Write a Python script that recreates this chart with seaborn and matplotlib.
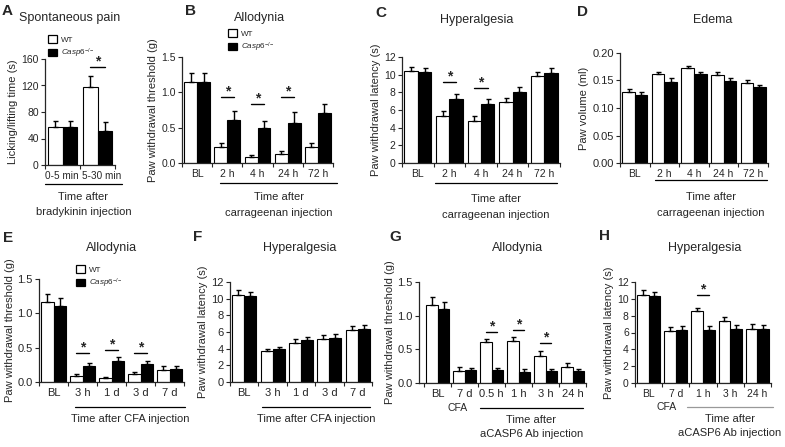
import matplotlib
matplotlib.use("Agg")
import matplotlib.pyplot as plt
from matplotlib.lines import Line2D
from matplotlib.patches import Patch
from matplotlib.transforms import ScaledTranslation
import seaborn as sns
import pandas as pd
import numpy as np

# ---- data ----
cats_a = ["0-5 min", "5-30 min"]
wt_a = [58, 118]
ko_a = [58, 51]
ewt_a = [8, 17]
eko_a = [8, 14]

cats_carr = ["BL", "2 h", "4 h", "24 h", "72 h"]
wt_b = [1.15, 0.22, 0.09, 0.13, 0.23]
ko_b = [1.15, 0.61, 0.50, 0.57, 0.71]
ewt_b = [0.12, 0.06, 0.03, 0.04, 0.06]
eko_b = [0.12, 0.12, 0.09, 0.15, 0.13]

wt_c = [10.4, 5.3, 4.8, 6.9, 9.8]
ko_c = [10.3, 7.2, 6.7, 8.0, 10.2]
ewt_c = [0.5, 0.6, 0.5, 0.5, 0.5]
eko_c = [0.5, 0.6, 0.6, 0.6, 0.6]

wt_d = [0.130, 0.162, 0.172, 0.160, 0.146]
ko_d = [0.124, 0.148, 0.162, 0.150, 0.138]
ewt_d = [0.005, 0.004, 0.004, 0.005, 0.005]
eko_d = [0.005, 0.006, 0.004, 0.005, 0.004]

cats_cfa = ["BL", "3 h", "1 d", "3 d", "7 d"]
wt_e = [1.16, 0.09, 0.06, 0.11, 0.17]
ko_e = [1.10, 0.24, 0.31, 0.26, 0.19]
ewt_e = [0.12, 0.03, 0.02, 0.04, 0.07]
eko_e = [0.12, 0.04, 0.06, 0.05, 0.04]

wt_f = [10.5, 3.7, 4.7, 5.2, 6.2]
ko_f = [10.3, 4.0, 5.0, 5.3, 6.4]
ewt_f = [0.5, 0.3, 0.5, 0.4, 0.5]
eko_f = [0.5, 0.2, 0.4, 0.5, 0.5]

cats_g = ["BL", "7 d", "0.5 h", "1 h", "3 h", "24 h"]
wt_g = [1.16, 0.18, 0.61, 0.63, 0.40, 0.24]
ko_g = [1.10, 0.19, 0.19, 0.17, 0.18, 0.18]
ewt_g = [0.12, 0.06, 0.04, 0.05, 0.07, 0.06]
eko_g = [0.11, 0.04, 0.04, 0.04, 0.03, 0.03]

cats_h = ["BL", "7 d", "1 h", "3 h", "24 h"]
wt_h = [10.5, 6.2, 8.6, 7.4, 6.4]
ko_h = [10.3, 6.3, 6.3, 6.4, 6.4]
ewt_h = [0.5, 0.5, 0.3, 0.5, 0.6]
eko_h = [0.5, 0.5, 0.5, 0.5, 0.5]

groups = ["WT", "Casp6"]

sns.set_style("ticks")
plt.rcParams['font.family'] = ['Liberation Sans', 'DejaVu Sans']
plt.rcParams['mathtext.fontset'] = 'custom'
plt.rcParams['mathtext.it'] = 'Liberation Sans:italic'
plt.rcParams['mathtext.rm'] = 'Liberation Sans'

W, H = 785, 447
fig = plt.figure(figsize=(W / 100, H / 100), dpi=100)


def fx(x):
    return x / W


def fy(y):
    return 1 - y / H


def panel(l, r, t, b, cats, wt, ko, ewt, eko, ymax, ystep, fmt, ylabel, xlim=None,
          stars=(), fs=7.5, xfs=7.5):
    ax = fig.add_axes([l / W, 1 - b / H, (r - l) / W, (b - t) / H])
    df = pd.DataFrame({"time": cats * 2, "value": wt + ko,
                       "group": ["WT"] * len(cats) + ["Casp6"] * len(cats)})
    sns.barplot(data=df, x="time", y="value", hue="group", order=cats, hue_order=groups,
                palette={"WT": "white", "Casp6": "black"}, saturation=1, edgecolor="black",
                linewidth=0.8, width=0.85, errorbar=None, legend=False, ax=ax)
    bars = sorted(ax.patches, key=lambda p: p.get_x())
    xs = np.array([p.get_x() + p.get_width() / 2 for p in bars])
    xw, xk = xs[0::2], xs[1::2]
    for x, v, e in [(xw, wt, ewt), (xk, ko, eko)]:
        ax.errorbar(x, v, yerr=[np.zeros(len(v)), e], fmt="none", ecolor="black",
                    elinewidth=1, capsize=1.8, capthick=1)
    n = len(cats)
    ax.set_xlim(xlim if xlim else (-0.5, n - 0.5))
    ax.set_ylim(0, ymax)
    ticks = np.arange(0, ymax + ystep / 2, ystep)
    ax.set_yticks(ticks)
    ax.set_yticklabels([fmt.format(v) for v in ticks])
    ax.set_xticks(range(n))
    ax.set_xticklabels(cats)
    ax.set_xticks(np.arange(-0.5, n, 1.0), minor=True)
    ax.tick_params(axis="x", which="major", length=0, pad=4, labelsize=xfs)
    ax.tick_params(axis="x", which="minor", length=3, width=0.8, direction="out")
    ax.tick_params(axis="y", length=3, width=0.8, pad=1.5, labelsize=fs)
    ax.set_xlabel("")
    ax.set_ylabel(ylabel, fontsize=8, labelpad=2)
    sns.despine(ax=ax)
    for s in ["left", "bottom"]:
        ax.spines[s].set_linewidth(0.9)
    for i, y in stars:
        ax.plot([xw[i], xk[i]], [y, y], color="black", lw=1, clip_on=False)
        ax.annotate("*", xy=(xs[2 * i] / 2 + xs[2 * i + 1] / 2, y), xytext=(0, -1),
                    textcoords="offset points", ha="center", va="bottom",
                    fontsize=10, fontweight="bold", annotation_clip=False)
    return ax


def caption(x1, x2, y, lines, ytext, color="black"):
    fig.add_artist(Line2D([fx(x1), fx(x2)], [fy(y), fy(y)], color=color, lw=0.9))
    cx = (x1 + x2) / 2
    for txt, yy in zip(lines, ytext):
        fig.text(fx(cx), fy(yy), txt, ha="center", va="center", fontsize=8)


def legend(ax, x, y):
    handles = [Patch(facecolor="white", edgecolor="black", lw=0.9),
               Patch(facecolor="black", edgecolor="black", lw=0.9)]
    ax.legend(handles, ["WT", r"$\mathit{Casp6}^{-/-}$"], loc="upper left",
              bbox_to_anchor=(fx(x), fy(y)), bbox_transform=fig.transFigure,
              frameon=False, fontsize=5.8, handlelength=1.1, handleheight=1.1,
              handletextpad=0.5, labelspacing=0.35, borderpad=0, borderaxespad=0)


def title(x, y, txt):
    fig.text(fx(x), fy(y), txt, ha="center", va="center", fontsize=9)


def letter(x, y, txt):
    fig.text(fx(x), fy(y), txt, ha="center", va="center", fontsize=11, fontweight="heavy")


ax_a = panel(45, 115, 59, 165, cats_a, wt_a, ko_a, ewt_a, eko_a, 160, 40, "{:.0f}",
             "Licking/lifting time (s)", stars=[(1, 148)], fs=7.5, xfs=7.2)
for lab, dx in zip(ax_a.get_xticklabels(), [-1, 4]):
    lab.set_transform(lab.get_transform() + ScaledTranslation(dx / 100, 0, fig.dpi_scale_trans))
legend(ax_a, 48, 35)
caption(45, 122, 184, ["Time after", "bradykinin injection"], [197, 212])

ax_b = panel(182, 333, 57, 163, cats_carr, wt_b, ko_b, ewt_b, eko_b, 1.5, 0.5, "{:.1f}",
             "Paw withdrawal threshold (g)", stars=[(1, 0.93), (2, 0.84), (3, 0.93)])
legend(ax_b, 228, 29)
caption(220, 337, 183, ["Time after", "carrageenan injection"], [197, 213])

ax_c = panel(402, 560, 57, 163, cats_carr, wt_c, ko_c, ewt_c, eko_c, 12, 2, "{:.0f}",
             "Paw withdrawal latency (s)", stars=[(1, 9.2), (2, 8.5)])
caption(435, 557, 183, ["Time after", "carrageenan injection"], [199, 215])

ax_d = panel(620, 768, 53, 163, cats_carr, wt_d, ko_d, ewt_d, eko_d, 0.20, 0.05, "{:.2f}",
             "Paw volume (ml)", fs=8)
caption(655, 767, 180, ["Time after", "carrageenan injection"], [197, 213])

ax_e = panel(39, 184, 279, 382, cats_cfa, wt_e, ko_e, ewt_e, eko_e, 1.5, 0.5, "{:.1f}",
             "Paw withdrawal threshold (g)", stars=[(1, 0.42), (2, 0.47), (3, 0.42)],
             fs=8, xfs=8)
legend(ax_e, 76, 265)
caption(75, 185, 407, ["Time after CFA injection"], [419])

ax_f = panel(230, 372, 282, 382, cats_cfa, wt_f, ko_f, ewt_f, eko_f, 12, 2, "{:.0f}",
             "Paw withdrawal latency (s)", fs=8, xfs=8)
caption(262, 370, 407, ["Time after CFA injection"], [419])

ax_g = panel(419, 586, 282, 383, cats_g, wt_g, ko_g, ewt_g, eko_g, 1.5, 0.5, "{:.1f}",
             "Paw withdrawal threshold (g)", xlim=(-0.7, 5.5),
             stars=[(2, 0.76), (3, 0.79), (4, 0.59)], fs=8, xfs=8)
caption(480, 583, 408, ["Time after", "aCASP6 Ab injection"], [420, 434])
fig.text(fx(458), fy(408), "CFA", ha="center", va="center", fontsize=7.5)

ax_h = panel(635, 771, 282, 383, cats_h, wt_h, ko_h, ewt_h, eko_h, 12, 2, "{:.0f}",
             "Paw withdrawal latency (s)", stars=[(2, 10.5)])
caption(687, 773, 407, ["Time after", "aCASP6 Ab injection"], [419, 433], color="#999999")
fig.text(fx(667), fy(407), "CFA", ha="center", va="center", fontsize=7.5)

title(70, 18, "Spontaneous pain")
title(260, 18, "Allodynia")
title(477, 20, "Hyperalgesia")
title(713, 20, "Edema")
title(112, 248, "Allodynia")
title(300, 248, "Hyperalgesia")
title(518, 248, "Allodynia")
title(705, 248, "Hyperalgesia")

for x, y, t in [(7, 11, "A"), (191, 11, "B"), (381, 13, "C"), (583, 12, "D"),
                (8, 238, "E"), (198, 237, "F"), (395, 237, "G"), (604, 236, "H")]:
    letter(x, y, t)

fig.savefig("out.png", dpi=100)
